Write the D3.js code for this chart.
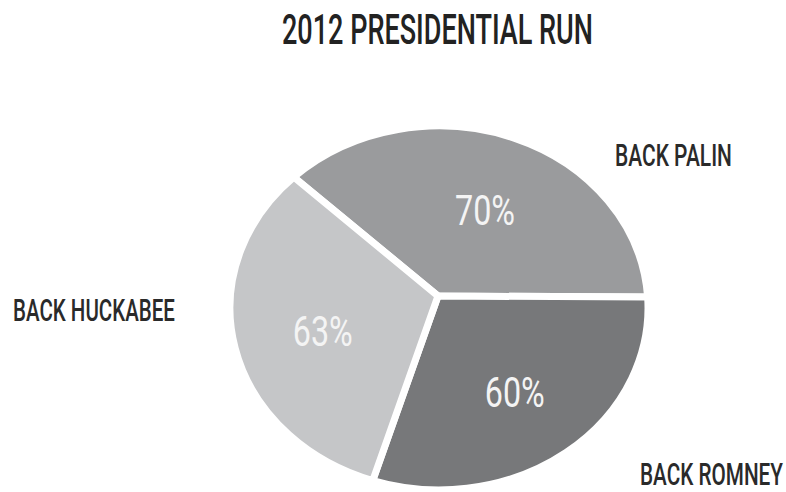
<!DOCTYPE html>
<html>
<head>
<meta charset="utf-8">
<script src="https://cdn.jsdelivr.net/npm/d3@7"></script>
<style>
  html, body { margin: 0; padding: 0; background: #fff; }
  svg { display: block; }
</style>
</head>
<body>
<svg id="chart" width="786" height="492"></svg>
<script>
// Data
const candidates = ["BACK PALIN", "BACK ROMNEY", "BACK HUCKABEE"];
const shares = [70, 60, 63];
const shareLabels = ["70%", "60%", "63%"];
const sliceColors = ["#9a9b9d", "#77787a", "#c5c6c8"];
const titleText = "2012 PRESIDENTIAL RUN";

const svg = d3.select("#chart");

// Oval pie geometry
const cx = 439, cy = 308, rx = 209, ry = 182;
const apex = [438, 296];
const ellipsePoint = (a, f = 1) => [cx + rx * f * Math.sin(a), cy - ry * f * Math.cos(a)];

const pie = d3.pie()
  .sort(null)
  .value(d => d)
  .startAngle(-44 * Math.PI / 180)
  .endAngle(316 * Math.PI / 180);

const arcs = pie(shares);

const slicePath = d => {
  const p0 = ellipsePoint(d.startAngle);
  const p1 = ellipsePoint(d.endAngle);
  const large = (d.endAngle - d.startAngle) > Math.PI ? 1 : 0;
  return `M${apex[0]},${apex[1]}L${p0[0]},${p0[1]}A${rx},${ry} 0 ${large} 1 ${p1[0]},${p1[1]}Z`;
};

svg.append("g")
  .selectAll("path")
  .data(arcs)
  .join("path")
  .attr("d", slicePath)
  .attr("fill", (d, i) => sliceColors[i])
  .attr("stroke", "#fff")
  .attr("stroke-width", 7)
  .attr("stroke-linejoin", "round");

const face = "Roboto, 'DejaVu Sans', sans-serif";

// Squeeze a text horizontally so that it spans `width` pixels, anchored at (x, y).
function narrow(sel, x, y, width, anchor) {
  sel.each(function () {
    const t = d3.select(this);
    const natural = this.getComputedTextLength();
    const k = width / natural;
    const left = anchor === "middle" ? x - width / 2 : x;
    t.attr("x", 0).attr("y", 0)
     .attr("transform", `translate(${left},${y}) scale(${k},1)`);
  });
}

// Value labels inside slices
svg.append("g")
  .selectAll("text")
  .data(arcs)
  .join("text")
  .attr("font-family", face)
  .attr("font-size", 42)
  .attr("font-weight", 400)
  .attr("fill", "#f4f4f4")
  .text((d, i) => shareLabels[i])
  .each(function (d) {
    const p = ellipsePoint((d.startAngle + d.endAngle) / 2, 0.58);
    narrow(d3.select(this), p[0] + 2, p[1] + 15, 60, "middle");
  });

// Candidate labels outside the pie
const labelPos = [
  { x: 615, y: 166, w: 117 },
  { x: 640, y: 485, w: 143 },
  { x: 13, y: 321, w: 162 }
];
svg.append("g")
  .selectAll("text")
  .data(candidates)
  .join("text")
  .attr("font-family", face)
  .attr("font-size", 31)
  .attr("font-weight", 500)
  .attr("fill", "#2a2a2a")
  .text(d => d)
  .each(function (d, i) {
    narrow(d3.select(this), labelPos[i].x, labelPos[i].y, labelPos[i].w, "start");
  });

// Title
svg.append("text")
  .attr("font-family", face)
  .attr("font-size", 42)
  .attr("font-weight", 500)
  .attr("fill", "#222")
  .text(titleText)
  .call(narrow, 282, 44, 311, "start");
</script>
</body>
</html>
